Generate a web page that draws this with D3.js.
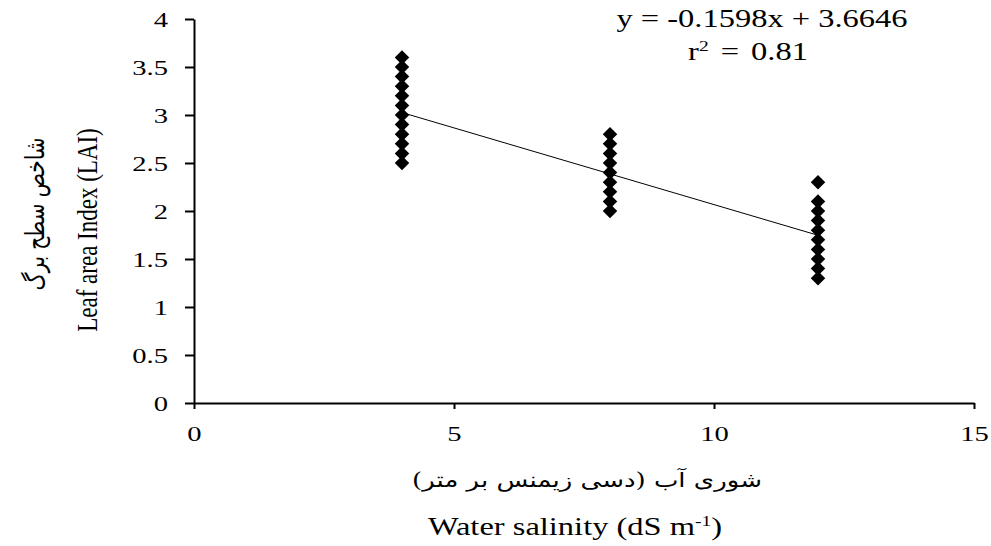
<!DOCTYPE html>
<html>
<head>
<meta charset="utf-8">
<script src="https://cdn.jsdelivr.net/npm/d3@7"></script>
<style>
  body { margin: 0; background: #fff; }
  text { font-family: "Liberation Serif", "Times New Roman", serif; fill: #000; }
  .fa { font-family: "DejaVu Serif", "DejaVu Sans", sans-serif; }
</style>
</head>
<body>
<svg class="chart" width="991" height="546"></svg>
<script>
// salinity levels (dS/m)
var salinity = [4, 8, 12];
// LAI observations for each salinity level
var lai4 = [2.5, 2.6, 2.7, 2.8, 2.9, 3.0, 3.1, 3.2, 3.3, 3.4, 3.5, 3.6];
var lai8 = [2.0, 2.1, 2.2, 2.3, 2.4, 2.5, 2.6, 2.7, 2.8];
var lai12 = [1.3, 1.4, 1.5, 1.6, 1.7, 1.8, 1.9, 2.0, 2.1, 2.3];
var xTicks = [0, 5, 10, 15];
var yTicks = [0, 0.5, 1, 1.5, 2, 2.5, 3, 3.5, 4];
var slope = -0.1598, intercept = 3.6646;

var sx = 1.3; // the original picture is stretched sideways

var points = [];
[lai4, lai8, lai12].forEach(function (arr, i) {
  arr.forEach(function (v) { points.push({x: salinity[i], y: v}); });
});

var svg = d3.select('.chart');
var x = d3.scaleLinear().domain([0, 15]).range([194, 974]);
var y = d3.scaleLinear().domain([0, 4]).range([403, 19]);

var xAxis = svg.append('g')
  .attr('transform', 'translate(0,403)')
  .call(d3.axisBottom(x).tickValues(xTicks).tickFormat(d3.format('~g')).tickSize(6).tickSizeOuter(0));
var yAxis = svg.append('g')
  .attr('transform', 'translate(194,0)')
  .call(d3.axisLeft(y).tickValues(yTicks).tickFormat(d3.format('~g')).tickSize(9).tickSizeOuter(0));

[xAxis, yAxis].forEach(function (g) {
  g.attr('font-family', null).attr('font-size', null);
  g.selectAll('path, line').attr('stroke', '#000').attr('stroke-width', 2);
  g.selectAll('text').style('font-size', '22px').attr('fill', '#000');
});
xAxis.selectAll('text').attr('x', 0).attr('y', 0).attr('dy', null)
  .attr('transform', 'translate(0,38) scale(' + sx + ',1)');
yAxis.selectAll('text').attr('x', 0).attr('dy', '0.34em')
  .attr('transform', 'translate(-26,0) scale(' + sx + ',1)');

// trend line
svg.append('line')
  .attr('x1', x(4)).attr('y1', y(slope * 4 + intercept))
  .attr('x2', x(12)).attr('y2', y(slope * 12 + intercept))
  .attr('stroke', '#000').attr('stroke-width', 1);

var diamond = d3.symbol().type(d3.symbolSquare).size(105);
svg.selectAll('path.pt')
  .data(points)
  .enter()
  .append('path')
  .attr('class', 'pt')
  .attr('d', diamond)
  .attr('transform', function (d) {
    return 'translate(' + x(d.x) + ',' + y(d.y) + ') rotate(45)';
  })
  .attr('fill', '#000');

// equation
svg.append('text').attr('transform', 'translate(762,27) scale(' + sx + ',1)')
  .attr('text-anchor', 'middle').style('font-size', '25px').text('y = -0.1598x + 3.6646');
var r2 = svg.append('text').attr('transform', 'translate(748,60) scale(' + sx + ',1)')
  .attr('text-anchor', 'middle').style('font-size', '25px').style('word-spacing', '3px');
r2.append('tspan').text('r');
r2.append('tspan').attr('dy', -9).style('font-size', '15px').text('2');
r2.append('tspan').attr('dy', 9).text(' = 0.81');

// y axis titles
svg.append('text').attr('transform', 'translate(97,230) scale(' + sx + ',1) rotate(-90)')
  .attr('text-anchor', 'middle').style('font-size', '23px').text('Leaf area Index (LAI)');
svg.append('text').attr('class', 'fa').attr('transform', 'translate(44,214) scale(' + sx + ',1) rotate(-90)')
  .attr('text-anchor', 'middle').attr('direction', 'rtl').style('font-size', '20px').text('شاخص سطح برگ');

// x axis titles
svg.append('text').attr('class', 'fa').attr('transform', 'translate(587,487) scale(' + sx + ',1)')
  .attr('text-anchor', 'middle').attr('direction', 'rtl').style('font-size', '20px').text('شوری آب (دسی زیمنس بر متر)');
var xt = svg.append('text').attr('transform', 'translate(575,535) scale(' + sx + ',1)')
  .attr('text-anchor', 'middle').style('font-size', '25px');
xt.append('tspan').text('Water salinity (dS m');
xt.append('tspan').attr('dy', -9).style('font-size', '15px').text('-1');
xt.append('tspan').attr('dy', 9).text(')');
</script>
</body>
</html>
